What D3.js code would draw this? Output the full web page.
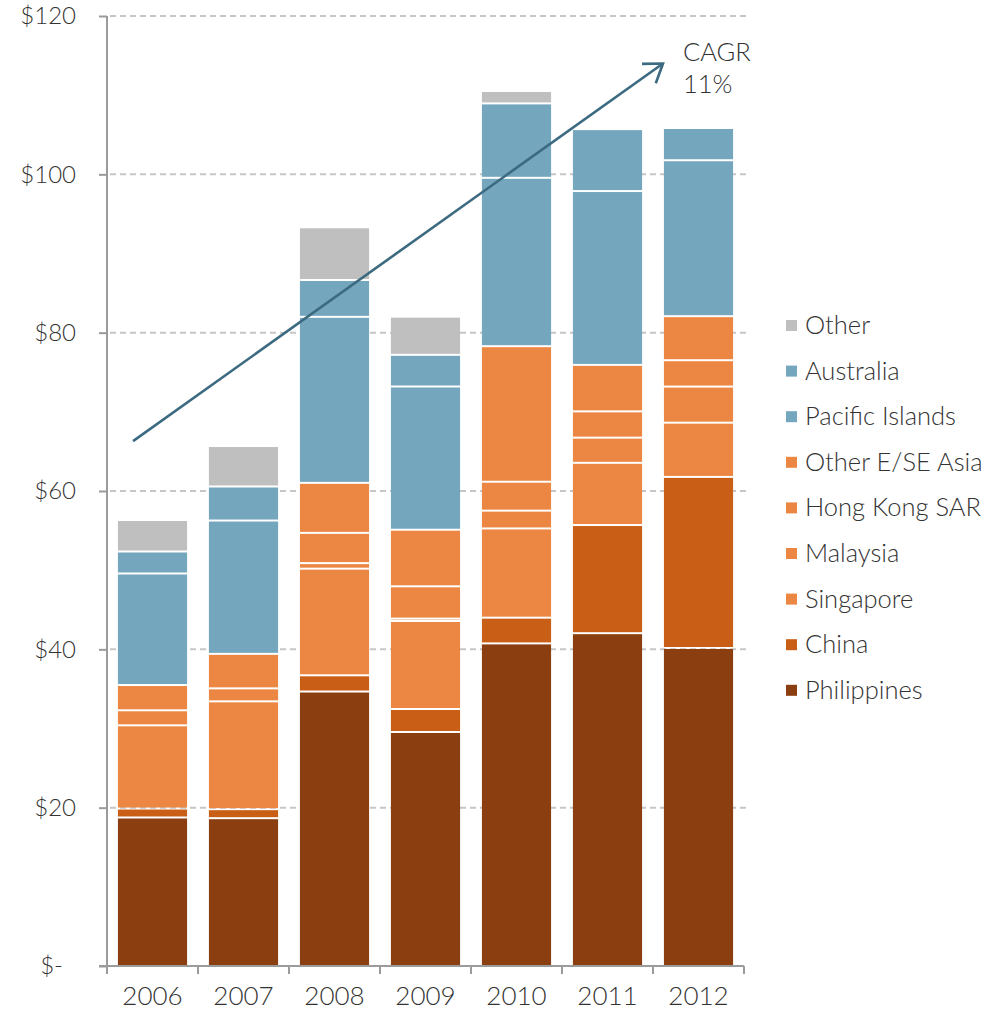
<!DOCTYPE html>
<html>
<head>
<meta charset="utf-8">
<script src="https://cdn.jsdelivr.net/npm/d3@7"></script>
<style>
  html, body { margin: 0; padding: 0; background: #fff; }
  svg { display: block; font-family: Lato, "Open Sans", sans-serif; font-weight: 300; }
</style>
</head>
<body>
<svg id="chart" width="1005" height="1010"></svg>
<script>
// Categories along the x axis
const years = ["2006", "2007", "2008", "2009", "2010", "2011", "2012"];

// Stacked series, bottom to top (US$ millions)
const philippines    = [18.76, 18.67, 34.67, 29.56, 40.75, 42.04, 40.17];
const china          = [ 1.13,  1.14,  2.05,  2.90,  3.25, 13.66, 21.61];
const singapore      = [10.51, 13.62, 13.47, 11.12, 11.27,  7.86,  6.85];
const malaysia       = [ 0.00,  0.00,  0.70,  0.30,  2.25,  3.18,  4.56];
const hongKong       = [ 1.90,  1.64,  3.82,  4.08,  3.65,  3.32,  3.33];
const otherEastAsia  = [ 3.19,  4.36,  6.32,  7.15, 17.12,  5.87,  5.56];
const pacificIslands = [14.09, 16.84, 20.97, 18.09, 21.27, 21.96, 19.70];
const australia      = [ 2.78,  4.30,  4.65,  4.00,  9.40,  7.82,  4.07];
const other          = [ 3.98,  5.11,  6.66,  4.82,  1.57,  0.00,  0.00];

// Y axis ticks
const yTicks = [0, 20, 40, 60, 80, 100, 120];
const yTickLabels = ["$-", "$20", "$40", "$60", "$80", "$100", "$120"];

// Growth annotation
const cagrLines = ["CAGR", "11%"];
const cagrStart = { band: 0.286, value: 66.3 };
const cagrEnd   = { band: 6.11,  value: 114.0 };

const series = [
  { name: "Philippines",      values: philippines,    color: "#8B3E0F" },
  { name: "China",            values: china,          color: "#C95E17" },
  { name: "Singapore",        values: singapore,      color: "#EB8742" },
  { name: "Malaysia",         values: malaysia,       color: "#EB8742" },
  { name: "Hong Kong SAR",    values: hongKong,       color: "#EB8742" },
  { name: "Other E/SE Asia",  values: otherEastAsia,  color: "#EB8742" },
  { name: "Pacific Islands",  values: pacificIslands, color: "#74A6BE" },
  { name: "Australia",        values: australia,      color: "#74A6BE" },
  { name: "Other",            values: other,          color: "#BFBFBF" }
];

const svg = d3.select("#chart");
const plot = { left: 107, right: 744, top: 16, bottom: 966 };
const axisColor = "#9b9b9b";
const textColor = "#333333";

const x = d3.scaleBand()
  .domain(years)
  .range([plot.left, plot.right])
  .paddingInner(0.24)
  .paddingOuter(0.12);

const y = d3.scaleLinear()
  .domain([0, 120])
  .range([plot.bottom, plot.top]);

// Continuous position across the bands, used by the annotation arrow
const bandPos = d3.scaleLinear()
  .domain([0, years.length])
  .range([plot.left, plot.right]);

// Dashed horizontal gridlines
svg.append("g")
  .selectAll("line")
  .data(yTicks.filter(d => d > 0))
  .join("line")
  .attr("x1", plot.left + 3)
  .attr("x2", plot.right + 2)
  .attr("y1", d => y(d))
  .attr("y2", d => y(d))
  .attr("stroke", "#c6c6c6")
  .attr("stroke-width", 2)
  .attr("stroke-dasharray", "6,4");

// Stack the series
const table = years.map((yr, i) => {
  const row = { year: yr };
  series.forEach(s => { row[s.name] = s.values[i]; });
  return row;
});
const stacked = d3.stack().keys(series.map(s => s.name))(table);
const gap = 1;

svg.append("g")
  .selectAll("g")
  .data(stacked)
  .join("g")
  .attr("fill", (d, i) => series[i].color)
  .selectAll("rect")
  .data(d => d.filter(seg => seg[1] - seg[0] > 0))
  .join("rect")
  .attr("x", d => x(d.data.year))
  .attr("width", x.bandwidth())
  .attr("y", d => y(d[1]) + gap)
  .attr("height", d => Math.max(0, y(d[0]) - y(d[1]) - 2 * gap));

// Y axis
const yAxis = svg.append("g")
  .attr("transform", `translate(${plot.left},0)`)
  .call(d3.axisLeft(y)
    .tickValues(yTicks)
    .tickSize(8)
    .tickPadding(23)
    .tickFormat((d, i) => yTickLabels[i]));
yAxis.select(".domain").attr("stroke", axisColor).attr("stroke-width", 2)
  .attr("d", `M0,${plot.top}V${plot.bottom + 8}`);
yAxis.selectAll(".tick line").attr("stroke", axisColor).attr("stroke-width", 2);
yAxis.selectAll(".tick text")
  .attr("fill", textColor)
  .attr("font-size", 24)
  .attr("font-family", "Lato, 'Open Sans', sans-serif")
  .attr("font-weight", 300)
  .attr("dx", d => d === 0 ? -13 : 0);

// X axis with ticks at band boundaries
const xAxis = svg.append("g").attr("transform", `translate(0,${plot.bottom})`);
xAxis.append("line")
  .attr("x1", plot.left - 8).attr("x2", plot.right)
  .attr("stroke", axisColor).attr("stroke-width", 2);
xAxis.selectAll(".bound")
  .data(d3.range(years.length + 1))
  .join("line")
  .attr("class", "bound")
  .attr("x1", i => bandPos(i)).attr("x2", i => bandPos(i))
  .attr("y1", 0).attr("y2", 8)
  .attr("stroke", axisColor).attr("stroke-width", 2);
xAxis.selectAll("text")
  .data(years)
  .join("text")
  .attr("x", d => x(d) + x.bandwidth() / 2)
  .attr("y", 39)
  .attr("text-anchor", "middle")
  .attr("fill", textColor)
  .attr("font-size", 26)
  .text(d => d);

// Growth arrow
const arrowColor = "#3C6A80";
const ax1 = bandPos(cagrStart.band), ay1 = y(cagrStart.value);
const ax2 = bandPos(cagrEnd.band),   ay2 = y(cagrEnd.value);
const ang = Math.atan2(ay2 - ay1, ax2 - ax1);
const head = 21, spread = 0.6;
svg.append("line")
  .attr("x1", ax1).attr("y1", ay1).attr("x2", ax2).attr("y2", ay2)
  .attr("stroke", arrowColor).attr("stroke-width", 2.6);
svg.append("path")
  .attr("d", `M${ax2 - head * Math.cos(ang - spread)},${ay2 - head * Math.sin(ang - spread)}` +
             `L${ax2},${ay2}` +
             `L${ax2 - head * Math.cos(ang + spread)},${ay2 - head * Math.sin(ang + spread)}`)
  .attr("fill", "none")
  .attr("stroke", arrowColor)
  .attr("stroke-width", 2.6)
  .attr("stroke-linejoin", "miter");

svg.append("g")
  .selectAll("text")
  .data(cagrLines)
  .join("text")
  .attr("x", ax2 + 20)
  .attr("y", (d, i) => ay2 - 3 + i * 32)
  .attr("fill", textColor)
  .attr("font-size", 25.5)
  .text(d => d);

// Legend, top series first
const legend = svg.append("g").attr("transform", "translate(786,0)");
const legendItems = legend.selectAll("g")
  .data(series.slice().reverse())
  .join("g")
  .attr("transform", (d, i) => `translate(0,${334 + i * 45.6})`);
legendItems.append("rect")
  .attr("x", 0).attr("y", -14)
  .attr("width", 11).attr("height", 11)
  .attr("fill", d => d.color);
legendItems.append("text")
  .attr("x", 19).attr("y", 0)
  .attr("fill", textColor)
  .attr("font-size", 25.5)
  .text(d => d.name);
</script>
</body>
</html>
